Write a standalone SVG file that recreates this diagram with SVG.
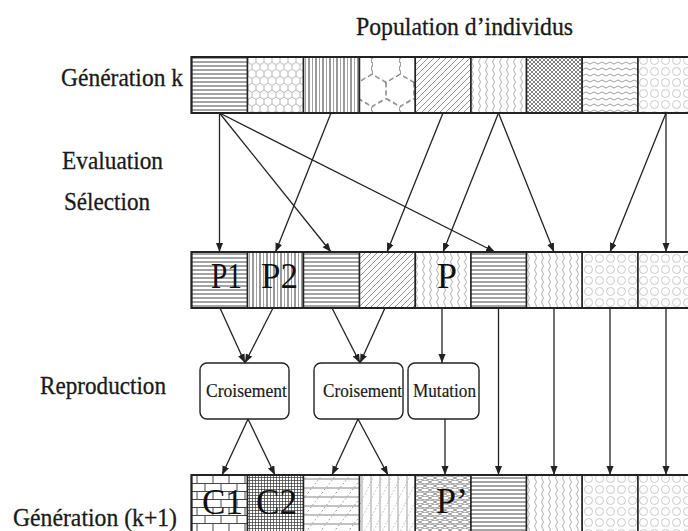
<svg xmlns="http://www.w3.org/2000/svg" width="688" height="531" viewBox="0 0 688 531">
<style>
  .lbl{font-family:"Liberation Serif","Times New Roman",serif;font-size:25px;fill:#1a1a1a;stroke:#1a1a1a;stroke-width:0.3}
  .box{font-family:"Liberation Serif","Times New Roman",serif;font-size:19.5px;fill:#1a1a1a;stroke:#1a1a1a;stroke-width:0.2}
  .big{font-family:"Liberation Serif","Times New Roman",serif;font-size:36px;fill:#111}
  .cell{stroke:#222;stroke-width:1.5}
  .row{fill:none;stroke:#222;stroke-width:2}
  .op{fill:#fff;stroke:#222;stroke-width:1.4}
  .conn line{stroke:#222;stroke-width:1.3;marker-end:url(#ah)}
</style>
<defs>
  <marker id="ah" markerUnits="userSpaceOnUse" markerWidth="10" markerHeight="8" refX="9" refY="3.5" orient="auto">
    <path d="M0,0 L9,3.5 L0,7 Z" fill="#222"/>
  </marker>
  <pattern id="pH" width="10" height="4" patternUnits="userSpaceOnUse">
    <rect width="10" height="4" fill="#fff"/>
    <line x1="0" y1="2" x2="10" y2="2" stroke="#333" stroke-width="0.9"/>
  </pattern>
  <pattern id="pHexS" width="8" height="13.86" patternUnits="userSpaceOnUse">
    <rect width="8" height="13.86" fill="#fff"/>
    <path d="M4,0 L8,2.31 L8,6.93 L4,9.24 L0,6.93 L0,2.31 Z M4,9.24 L4,13.86" fill="none" stroke="#999" stroke-width="0.7"/>
  </pattern>
  <pattern id="pV" width="7" height="10" patternUnits="userSpaceOnUse">
    <rect width="7" height="10" fill="#fff"/>
    <line x1="1" y1="0" x2="1" y2="10" stroke="#333" stroke-width="1"/>
    <line x1="4.5" y1="0" x2="4.5" y2="10" stroke="#888" stroke-width="0.8"/>
  </pattern>
  <pattern id="pHexL" width="28" height="48.5" patternUnits="userSpaceOnUse" x="8" y="50">
    <rect width="28" height="48.5" fill="#fff"/>
    <path d="M14,0 L28,8.09 L28,24.26 L14,32.34 L0,24.26 L0,8.09 Z M14,32.34 L14,48.5" fill="none" stroke="#444" stroke-width="1" stroke-dasharray="5 3"/>
  </pattern>
  <pattern id="pDiag" width="6" height="6" patternUnits="userSpaceOnUse">
    <rect width="6" height="6" fill="#fff"/>
    <path d="M0,6 L6,0 M-1,1 L1,-1 M5,7 L7,5" stroke="#777" stroke-width="0.8"/>
  </pattern>
  <pattern id="pWaveV" width="7" height="8" patternUnits="userSpaceOnUse">
    <rect width="7" height="8" fill="#fff"/>
    <path d="M3.5,0 Q5.5,2 3.5,4 Q1.5,6 3.5,8" fill="none" stroke="#999" stroke-width="0.8"/>
  </pattern>
  <pattern id="pCross" width="4" height="4" patternUnits="userSpaceOnUse">
    <rect width="4" height="4" fill="#fff"/>
    <path d="M0,0 L4,4 M4,0 L0,4" stroke="#555" stroke-width="0.75"/>
  </pattern>
  <pattern id="pWaveH" width="8" height="6" patternUnits="userSpaceOnUse">
    <rect width="8" height="6" fill="#fff"/>
    <path d="M0,3 Q2,1 4,3 Q6,5 8,3" fill="none" stroke="#888" stroke-width="0.8"/>
  </pattern>
  <pattern id="pCirc" width="11" height="11" patternUnits="userSpaceOnUse">
    <rect width="11" height="11" fill="#fff"/>
    <circle cx="5.5" cy="5.5" r="4" fill="none" stroke="#c4c4c4" stroke-width="0.9"/>
  </pattern>
  <pattern id="pBrick" width="16" height="16" patternUnits="userSpaceOnUse" y="475">
    <rect width="16" height="16" fill="#fff"/>
    <path d="M0,0.5 H16 M0,8.5 H16 M5,0.5 V8.5 M13,8.5 V16" stroke="#333" stroke-width="0.9"/>
  </pattern>
  <pattern id="pGrid" width="3" height="3" patternUnits="userSpaceOnUse">
    <rect width="3" height="3" fill="#fff"/>
    <path d="M0,0.5 H3 M0.5,0 V3" stroke="#333" stroke-width="0.7"/>
  </pattern>
  <pattern id="pHD" width="14" height="18" patternUnits="userSpaceOnUse" y="475">
    <rect width="14" height="18" fill="#fff"/>
    <path d="M0,4 H14 M0,13 H14" stroke="#666" stroke-width="0.8"/>
    <path d="M0,18 L14,0" stroke="#777" stroke-width="0.9" stroke-dasharray="1.2 2.5"/>
  </pattern>
  <pattern id="pVD" width="9" height="18" patternUnits="userSpaceOnUse">
    <rect width="9" height="18" fill="#fff"/>
    <path d="M2,0 V18" stroke="#888" stroke-width="0.8"/>
    <path d="M0,18 L9,0" stroke="#aaa" stroke-width="0.8" stroke-dasharray="1.5 2"/>
  </pattern>
  <pattern id="pScale" width="10" height="8" patternUnits="userSpaceOnUse">
    <rect width="10" height="8" fill="#fff"/>
    <path d="M0,2 Q5,-2 10,2 Q5,6 0,2 M-5,6 Q0,2 5,6 Q0,10 -5,6 M5,6 Q10,2 15,6 Q10,10 5,6" fill="none" stroke="#777" stroke-width="0.8"/>
  </pattern>
</defs>

<rect width="688" height="531" fill="#fff"/>

<!-- labels -->
<text class="lbl" x="356" y="35" textLength="217" lengthAdjust="spacingAndGlyphs">Population d’individus</text>
<text class="lbl" x="61" y="86" textLength="122" lengthAdjust="spacingAndGlyphs">Génération k</text>
<text class="lbl" x="62" y="169" textLength="101" lengthAdjust="spacingAndGlyphs">Evaluation</text>
<text class="lbl" x="64" y="210" textLength="86" lengthAdjust="spacingAndGlyphs">Sélection</text>
<text class="lbl" x="40" y="394" textLength="126" lengthAdjust="spacingAndGlyphs">Reproduction</text>
<text class="lbl" x="13" y="526" textLength="164" lengthAdjust="spacingAndGlyphs">Génération (k+1)</text>

<!-- Generation k -->
<g id="gen-k">
  <g id="k1"><rect class="cell" x="191.5" y="57" width="56" height="56" fill="url(#pH)"/></g>
  <g id="k2"><rect class="cell" x="247.5" y="57" width="56" height="56" fill="url(#pHexS)"/></g>
  <g id="k3"><rect class="cell" x="303.5" y="57" width="56" height="56" fill="url(#pV)"/></g>
  <g id="k4"><rect class="cell" x="359.5" y="57" width="55.8" height="56" fill="url(#pHexL)"/></g>
  <g id="k5"><rect class="cell" x="415.3" y="57" width="55.7" height="56" fill="url(#pDiag)"/></g>
  <g id="k6"><rect class="cell" x="471" y="57" width="55.5" height="56" fill="url(#pWaveV)"/></g>
  <g id="k7"><rect class="cell" x="526.5" y="57" width="55.7" height="56" fill="url(#pCross)"/></g>
  <g id="k8"><rect class="cell" x="582.2" y="57" width="55.8" height="56" fill="url(#pWaveH)"/></g>
  <g id="k9"><rect class="cell" x="638" y="57" width="60" height="56" fill="url(#pCirc)"/></g>
  <rect class="row" x="191.5" y="57" width="510" height="56"/>
</g>

<!-- Selected -->
<g id="selected">
  <g id="s1"><rect class="cell" x="191.5" y="252" width="56" height="56" fill="url(#pH)"/></g>
  <g id="s2"><rect class="cell" x="247.5" y="252" width="56" height="56" fill="url(#pV)"/></g>
  <g id="s3"><rect class="cell" x="303.5" y="252" width="56" height="56" fill="url(#pH)"/></g>
  <g id="s4"><rect class="cell" x="359.5" y="252" width="55.8" height="56" fill="url(#pDiag)"/></g>
  <g id="s5"><rect class="cell" x="415.3" y="252" width="55.7" height="56" fill="url(#pWaveV)"/></g>
  <g id="s6"><rect class="cell" x="471" y="252" width="55.5" height="56" fill="url(#pH)"/></g>
  <g id="s7"><rect class="cell" x="526.5" y="252" width="55.7" height="56" fill="url(#pWaveV)"/></g>
  <g id="s8"><rect class="cell" x="582.2" y="252" width="55.8" height="56" fill="url(#pCirc)"/></g>
  <g id="s9"><rect class="cell" x="638" y="252" width="60" height="56" fill="url(#pCirc)"/></g>
  <rect class="row" x="191.5" y="252" width="510" height="56"/>
  <text class="big" x="211" y="288" textLength="31" lengthAdjust="spacingAndGlyphs">P1</text>
  <text class="big" x="261" y="288" textLength="37" lengthAdjust="spacingAndGlyphs">P2</text>
  <text class="big" x="437" y="288" textLength="20" lengthAdjust="spacingAndGlyphs">P</text>
</g>

<!-- Operators -->
<g id="op-crois1"><rect class="op" x="200" y="363" width="89" height="56" rx="7"/><text class="box" x="206" y="397" textLength="81" lengthAdjust="spacingAndGlyphs">Croisement</text></g>
<g id="op-crois2"><rect class="op" x="314" y="363" width="89" height="56" rx="7"/><text class="box" x="323" y="397" textLength="79" lengthAdjust="spacingAndGlyphs">Croisement</text></g>
<g id="op-mut"><rect class="op" x="408" y="363" width="71" height="56" rx="7"/><text class="box" x="413" y="397" textLength="63" lengthAdjust="spacingAndGlyphs">Mutation</text></g>

<!-- Generation k+1 -->
<g id="gen-k1">
  <g id="n1"><rect class="cell" x="191.5" y="475" width="56" height="60" fill="url(#pBrick)"/></g>
  <g id="n2"><rect class="cell" x="247.5" y="475" width="56" height="60" fill="url(#pGrid)"/></g>
  <g id="n3"><rect class="cell" x="303.5" y="475" width="56" height="60" fill="url(#pHD)"/></g>
  <g id="n4"><rect class="cell" x="359.5" y="475" width="55.8" height="60" fill="url(#pVD)"/></g>
  <g id="n5"><rect class="cell" x="415.3" y="475" width="55.7" height="60" fill="url(#pScale)"/></g>
  <g id="n6"><rect class="cell" x="471" y="475" width="55.5" height="60" fill="url(#pH)"/></g>
  <g id="n7"><rect class="cell" x="526.5" y="475" width="55.7" height="60" fill="url(#pWaveV)"/></g>
  <g id="n8"><rect class="cell" x="582.2" y="475" width="55.8" height="60" fill="url(#pCirc)"/></g>
  <g id="n9"><rect class="cell" x="638" y="475" width="60" height="60" fill="url(#pCirc)"/></g>
  <rect class="row" x="191.5" y="475" width="510" height="60"/>
  <text class="big" x="202" y="514" textLength="41" lengthAdjust="spacingAndGlyphs">C1</text>
  <text class="big" x="256" y="514" textLength="41" lengthAdjust="spacingAndGlyphs">C2</text>
  <text class="big" x="436" y="513" textLength="32" lengthAdjust="spacingAndGlyphs">P’</text>
</g>

<!-- connectors -->
<g class="conn" id="connectors">
  <line x1="219.5" y1="113" x2="219.5" y2="252"/>
  <line x1="219.5" y1="113" x2="331" y2="252"/>
  <line x1="219.5" y1="113" x2="495" y2="252"/>
  <line x1="331" y1="113" x2="275.5" y2="252"/>
  <line x1="443" y1="113" x2="387" y2="252"/>
  <line x1="498.5" y1="113" x2="443" y2="252"/>
  <line x1="498.5" y1="113" x2="554" y2="252"/>
  <line x1="666" y1="113" x2="610" y2="252"/>
  <line x1="666" y1="113" x2="666" y2="252"/>

  <line x1="220" y1="308" x2="245" y2="363"/>
  <line x1="273" y1="308" x2="245" y2="363"/>
  <line x1="332" y1="308" x2="360" y2="363"/>
  <line x1="385" y1="308" x2="360" y2="363"/>
  <line x1="442" y1="308" x2="442" y2="363"/>

  <line x1="248" y1="419" x2="222" y2="475"/>
  <line x1="248" y1="419" x2="275" y2="475"/>
  <line x1="358" y1="419" x2="332" y2="475"/>
  <line x1="358" y1="419" x2="388" y2="475"/>
  <line x1="445" y1="419" x2="445" y2="475"/>

  <line x1="498.5" y1="308" x2="498.5" y2="475"/>
  <line x1="554" y1="308" x2="554" y2="475"/>
  <line x1="610" y1="308" x2="610" y2="475"/>
  <line x1="666" y1="308" x2="666" y2="475"/>
</g>
</svg>
